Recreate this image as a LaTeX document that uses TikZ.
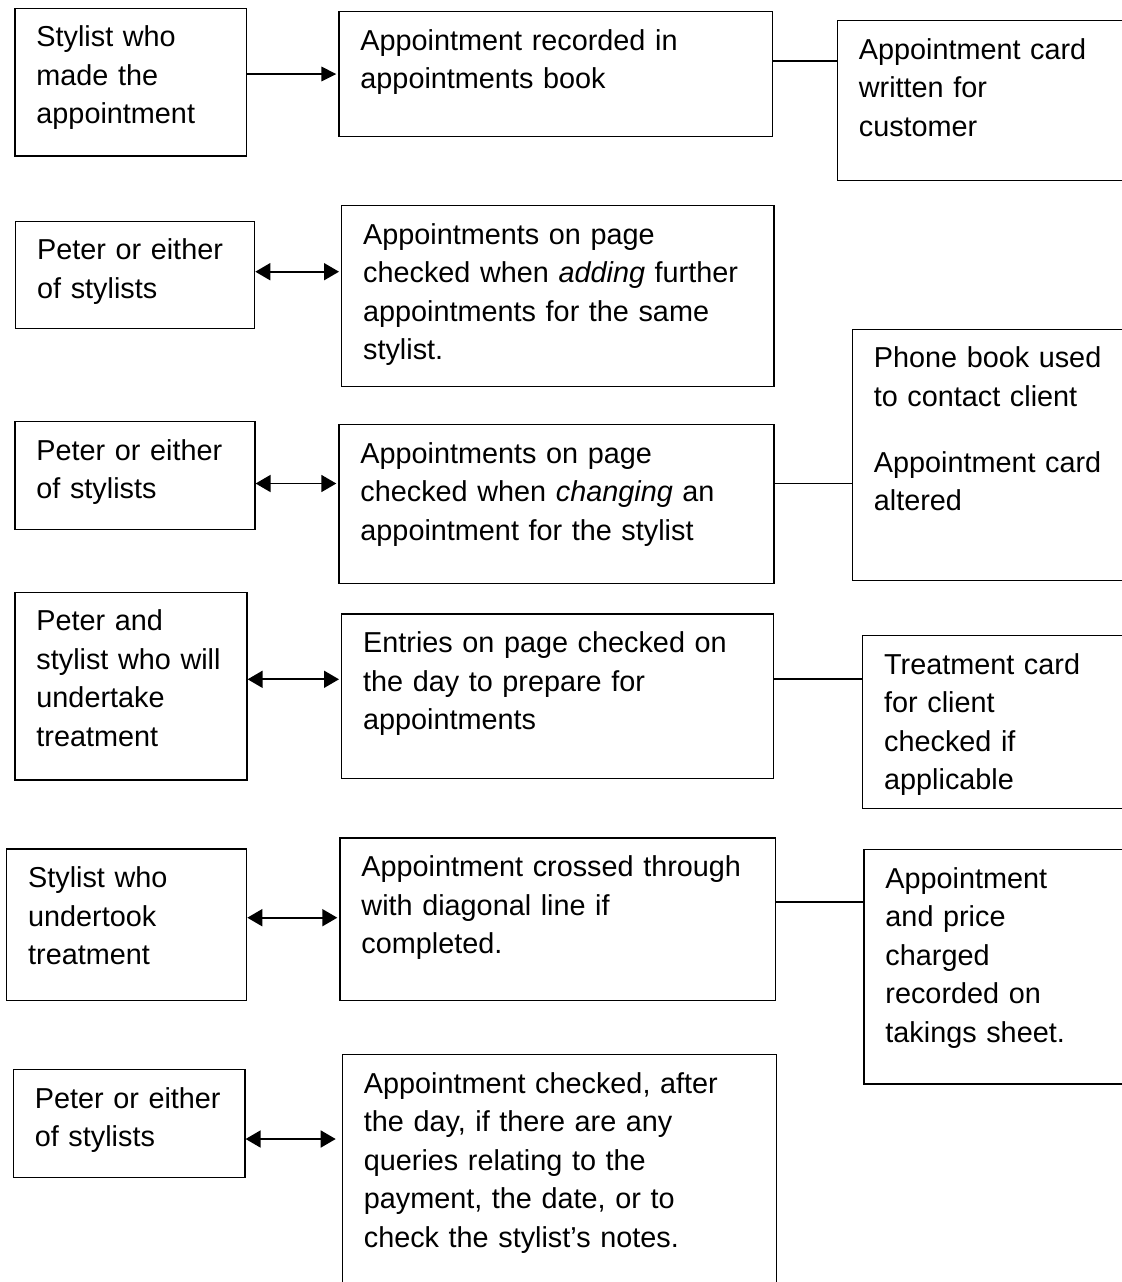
\documentclass[tikz,border=0pt]{standalone}
\usepackage{fontspec}
\setmainfont{Liberation Sans}
\usepackage{tikz}
\usetikzlibrary{arrows.meta}
\newcommand{\cardfont}{\fontsize{16.4}{21.95}\selectfont}

\begin{document}
\begin{tikzpicture}[x=0.02cm, y=-0.02cm,
  every node/.style={font=\cardfont},
  card/.style 2 args={draw, line width=0.75pt, anchor=north west, align=left,
    inner xsep=0.43cm, inner ysep=0pt, text width={(#1-43)*0.02cm},
    text height=0.77cm, text depth={(#2-38.5)*0.02cm}},
  link/.style={line width=1pt},
  >={Triangle[length=0.3cm, width=0.29cm]},
  both/.style={link, {Triangle[length=0.3cm, width=0.34cm]}-{Triangle[length=0.3cm, width=0.34cm]}}]
\useasboundingbox (0,0) rectangle (1122,1282);
\clip (0,0) rectangle (1122,1282);

\node[card={231.7}{147.6}] (maker) at (14.3,7.7) {Stylist who\\made the\\appointment};
\node[card={433.4}{125}] (recorded) at (338.3,11) {Appointment recorded in\\appointments book};
\node[card={303.3}{160}] (written) at (836.7,20) {Appointment card\\written for\\customer};

\node[card={239}{107.3}] (adder) at (15,220.7) {Peter or either\\of stylists};
\node[card={432.3}{181}] (adding) at (341,205) {Appointments on page\\checked when \textit{adding} further\\appointments for the same\\stylist.};

\node[card={240}{108}] (changer) at (14.3,421) {Peter or either\\of stylists};
\node[card={435}{158.7}] (changing) at (338.3,424) {Appointments on page\\checked when \textit{changing} an\\appointment for the stylist};
\node[card={288.3}{251}] (phoned) at (851.7,328.5) {Phone book used\\to contact client\\[0.55cm]Appointment card\\altered};

\node[card={232}{187.6}] (preparer) at (14.3,591.7) {Peter and\\stylist who will\\undertake\\treatment};
\node[card={432}{164.4}] (preparing) at (341,613.3) {Entries on page checked on\\the day to prepare for\\appointments};
\node[card={278}{172.7}] (treatcard) at (862,635) {Treatment card\\for client\\checked if\\applicable};

\node[card={240}{151.7}] (doer) at (6,848.3) {Stylist who\\undertook\\treatment};
\node[card={435.7}{162.7}] (crossed) at (339.3,837.3) {Appointment crossed through\\with diagonal line if\\completed.};
\node[card={276.7}{234.3}] (takings) at (863.3,849) {Appointment\\and price\\charged\\recorded on\\takings sheet.};

\node[card={231.6}{107.7}] (querier) at (12.7,1069) {Peter or either\\of stylists};
\node[card={434.3}{246}] (queries) at (341.7,1054) {Appointment checked, after\\the day, if there are any\\queries relating to the\\payment, the date, or to\\check the stylist’s notes.};

\coordinate (row1) at (0,74);
\coordinate (row2) at (0,271.7);
\coordinate (row3) at (0,483.5);
\coordinate (row4) at (0,679.3);
\coordinate (row5) at (0,917.7);
\coordinate (row6) at (0,1139);
\coordinate (side1) at (0,61);
\coordinate (side5) at (0,902.3);

\draw[link, ->, shorten >=0.04cm] (maker.east |- row1) -- (recorded.west |- row1);
\draw[both, shorten >=0.04cm] (adder.east |- row2) -- (adding.west |- row2);
\draw[both, shorten >=0.04cm] (changer.east |- row3) -- (changing.west |- row3);
\draw[both, shorten >=0.04cm] (preparer.east |- row4) -- (preparing.west |- row4);
\draw[both, shorten >=0.04cm] (doer.east |- row5) -- (crossed.west |- row5);
\draw[both, shorten >=0.12cm] (querier.east |- row6) -- (queries.west |- row6);

\draw[link] (recorded.east |- side1) -- (written.west |- side1);
\draw[link] (changing.east |- row3) -- (phoned.west |- row3);
\draw[link] (preparing.east |- row4) -- (treatcard.west |- row4);
\draw[link] (crossed.east |- side5) -- (takings.west |- side5);
\end{tikzpicture}
\end{document}
